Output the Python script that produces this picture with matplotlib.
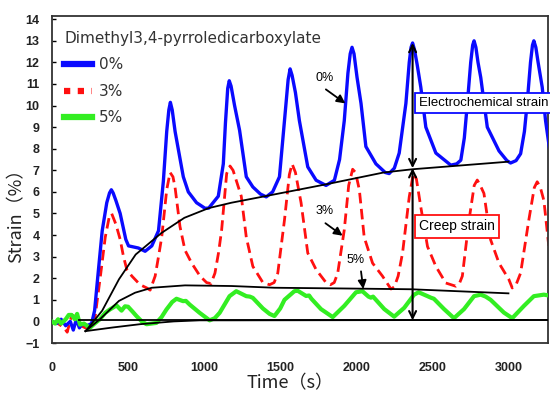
import matplotlib
matplotlib.use("Agg")
import matplotlib.pyplot as plt
from matplotlib.lines import Line2D
from matplotlib import font_manager

# ---------------- data ----------------
blue_t = [0, 30, 60, 90, 120, 140, 160, 180, 200, 230, 260, 280, 300, 330, 360, 378, 390, 402, 420,
          448, 485, 503, 568, 612, 656, 700, 732, 754, 768, 778, 790, 809, 863, 896, 950, 1006, 1030,
          1093, 1126, 1140, 1155, 1165, 1177, 1200, 1233, 1277, 1320, 1370, 1408, 1450, 1495, 1528,
          1552, 1565, 1578, 1600, 1626, 1681, 1736, 1801, 1856, 1890, 1921, 1945, 1960, 1972, 1985,
          2005, 2031, 2063, 2129, 2190, 2216, 2250, 2282, 2326, 2348, 2360, 2370, 2382, 2400, 2424,
          2457, 2523, 2621, 2660, 2687, 2710, 2730, 2752, 2765, 2774, 2786, 2800, 2818, 2861, 2938,
          2990, 3014, 3050, 3080, 3105, 3123, 3145, 3158, 3167, 3180, 3195, 3222, 3244, 3270]
blue_v = [0.0, -0.1, 0.1, -0.2, 0.0, -0.4, 0.1, -0.3, -0.1, -0.2, -0.1, 0.5, 2.0, 4.2, 5.5, 5.95, 6.1, 5.95, 5.6,
          5.0, 3.8, 3.5, 3.4, 3.25, 3.5, 4.2, 6.5, 8.8, 9.8, 10.15, 9.8, 8.8, 6.7, 6.0, 5.5, 5.24, 5.25,
          5.8, 7.3, 9.2, 10.8, 11.15, 10.9, 10.0, 8.85, 6.7, 6.23, 5.9, 5.77, 6.0, 6.7, 9.3,
          11.2, 11.7, 11.4, 10.6, 9.3, 7.16, 6.54, 6.3, 6.54, 7.5, 9.3, 11.5, 12.4, 12.7, 12.4,
          11.3, 10.1, 8.1, 7.3, 6.9, 6.85, 7.1, 7.8, 10.1, 12.0, 12.7, 12.9, 12.6, 11.9, 10.85,
          9.0, 7.8, 7.24, 7.3, 7.47, 8.5, 10.1, 12.0, 12.8, 13.0, 12.7, 12.0, 11.3, 9.0, 7.9,
          7.45, 7.34, 7.45, 7.77, 8.8, 10.1, 12.0, 12.8, 13.0, 12.7, 12.0, 10.85, 9.3, 8.0]

red_t = [0, 40, 80, 100, 130, 160, 190, 220, 260, 284, 320, 350, 375, 392, 420, 448, 470, 492, 525, 579,
         623, 645, 678, 700, 721, 754, 776, 795, 809, 841, 874, 918, 973, 1016, 1045, 1071, 1095, 1115,
         1148, 1170, 1190, 1244, 1277, 1320, 1386, 1430, 1460, 1484, 1528, 1560, 1578, 1600, 1637,
         1681, 1736, 1801, 1830, 1855, 1878, 1921, 1950, 1976, 1995, 2020, 2052, 2107, 2172, 2228,
         2250, 2275, 2304, 2348, 2375, 2395, 2424, 2468, 2523, 2588, 2654, 2680, 2697, 2741, 2775,
         2795, 2815, 2839, 2883, 2938, 3003, 3025, 3050, 3080, 3134, 3170, 3189, 3210, 3233, 3265]
red_v = [0.0, -0.1, -0.3, -0.5, 0.3, 0.2, -0.2, -0.3, -0.1, 0.25, 2.2, 3.9, 4.8, 5.0, 4.5, 3.8, 3.0, 2.4, 2.1, 1.7,
         1.55, 1.45, 2.1, 3.0, 3.9, 6.1, 6.9, 6.7, 6.2, 4.4, 3.3, 2.7, 2.1, 1.8, 1.75, 2.24, 3.2, 4.24,
         6.85, 7.2, 7.0, 5.8, 3.9, 2.55, 1.8, 1.7, 1.8, 2.24, 4.7, 6.8, 7.3, 6.9, 5.5,
         3.17, 2.4, 1.8, 1.7, 1.8, 2.24, 4.24, 6.3, 7.05, 6.9, 6.1, 3.9, 2.7, 2.1, 1.5,
         1.6, 2.1, 3.17, 5.77, 6.85, 6.6, 5.3, 3.47, 2.55, 1.78, 1.63, 1.8, 2.1, 4.7, 6.3,
         6.55, 6.3, 5.93, 3.78, 2.7, 1.94, 1.55, 1.7, 2.24, 4.7, 6.2, 6.47, 6.2, 5.6, 3.5]

green_t = [0, 20, 40, 60, 90, 110, 129, 150, 165, 184, 210, 249, 280, 315, 350, 380, 424, 457, 480, 500,
           530, 555, 590, 621, 686, 720, 752, 790, 818, 861, 880, 905, 970, 1036, 1070, 1102, 1167, 1211,
           1240, 1277, 1300, 1320, 1386, 1430, 1462, 1500, 1528, 1593, 1615, 1670, 1690, 1705, 1768,
           1845, 1921, 1998, 2040, 2080, 2096, 2110, 2184, 2249, 2315, 2380, 2410, 2468, 2490, 2510,
           2577, 2642, 2708, 2774, 2818, 2850, 2883, 2970, 3025, 3102, 3167, 3233, 3265]
green_v = [0.0, -0.1, 0.1, -0.1, 0.1, 0.3, 0.3, 0.1, 0.35, -0.15, -0.1, -0.3, -0.1, 0.1, 0.4, 0.55, 0.74, 0.5, 0.7, 0.68,
           0.45, 0.25, 0.0, -0.13, -0.07, 0.2, 0.55, 0.9, 1.05, 0.94, 0.95, 0.78, 0.4, 0.05, 0.15, 0.4, 1.17, 1.4,
           1.3, 1.17, 1.15, 1.09, 0.6, 0.35, 0.25, 0.6, 1.0, 1.4, 1.42, 1.18, 1.2, 1.05, 0.57,
           0.2, 0.72, 1.35, 1.4, 1.15, 1.1, 1.15, 0.57, 0.22, 0.63, 1.24, 1.35, 1.17, 1.1, 1.05,
           0.57, 0.15, 0.57, 1.17, 1.24, 1.15, 1.0, 0.41, 0.15, 0.72, 1.17, 1.24, 1.2]

fit0_t = [220, 250, 330, 440, 550, 720, 870, 1030, 1180, 1400, 1800, 2180, 2370, 3000]
fit0_v = [-0.45, -0.2, 0.5, 1.95, 3.1, 4.1, 4.8, 5.25, 5.5, 5.8, 6.35, 6.9, 7.05, 7.4]
fit3_t = [220, 315, 440, 546, 656, 874, 1180, 1462, 2000, 2360, 3000]
fit3_v = [-0.45, 0.1, 0.95, 1.33, 1.56, 1.67, 1.64, 1.56, 1.52, 1.49, 1.3]
fit5_t = [220, 400, 577, 800, 970, 1180, 3265]
fit5_v = [-0.45, -0.28, -0.13, 0.0, 0.05, 0.05, 0.07]
base_t = [180, 3265]
base_v = [0.07, 0.07]

x_ticks = [0, 500, 1000, 1500, 2000, 2500, 3000]
y_ticks = list(range(-1, 15))
series_labels = ["0%", "3%", "5%"]
legend_title = "Dimethyl3,4-pyrroledicarboxylate"

# ---------------- fonts ----------------
names = {f.name for f in font_manager.fontManager.ttflist}
narrow = "Liberation Sans Narrow" if "Liberation Sans Narrow" in names else "Liberation Sans"
cjk = ["Noto Sans CJK JP", "DejaVu Sans"]

# ---------------- figure ----------------
fig = plt.figure(figsize=(5.5, 3.94), dpi=100)
ax = fig.add_axes([52 / 550, 1 - 343 / 394, 496 / 550, 327 / 394])
ax.set_xlim(0, 3260)
ax.set_ylim(-1, 14.15)

ax.plot(red_t, red_v, color="#ff1010", lw=2.0, ls=(0, (3.8, 2.0)), zorder=2)
ax.plot(blue_t, blue_v, color="#0a0aff", lw=2.4, zorder=3)
ax.plot(green_t, green_v, color="#33ee22", lw=3.0, zorder=3)
for tt, vv in [(fit0_t, fit0_v), (fit3_t, fit3_v), (fit5_t, fit5_v), (base_t, base_v)]:
    ax.plot(tt, vv, color="black", lw=1.3, zorder=4)

# vertical double arrows
ap = dict(arrowstyle="<->,head_length=0.5,head_width=0.25", color="black", lw=1.5,
          shrinkA=0, shrinkB=0)
ax.annotate("", xy=(2370, 12.9), xytext=(2370, 7.1), arrowprops=ap, zorder=5)
ax.annotate("", xy=(2370, 7.1), xytext=(2370, 0.05), arrowprops=ap, zorder=5)

# text boxes
ax.text(2410, 10.1, "Electrochemical strain", fontsize=9.5, family=narrow, ha="left", va="center",
        bbox=dict(boxstyle="square,pad=0.3", fc="white", ec="#0a0aff", lw=1.3), zorder=6,
        clip_on=False)
ax.text(2410, 4.4, "Creep strain", fontsize=10, family=narrow, ha="left", va="center",
        bbox=dict(boxstyle="square,pad=0.3", fc="white", ec="#ff1010", lw=1.3), zorder=6)

# arrow labels
sap = dict(arrowstyle="-|>,head_length=0.5,head_width=0.25", color="black", lw=1.3,
           shrinkA=0, shrinkB=0)
ax.text(1790, 11.3, series_labels[0], fontsize=9, ha="center", va="center", family="Liberation Sans")
ax.annotate("", xy=(1928, 10.1), xytext=(1800, 10.75), arrowprops=sap)
ax.text(1790, 5.1, series_labels[1], fontsize=9, ha="center", va="center", family="Liberation Sans")
ax.annotate("", xy=(1910, 3.97), xytext=(1797, 4.55), arrowprops=sap)
ax.text(1998, 2.86, series_labels[2], fontsize=9, ha="center", va="center", family="Liberation Sans")
ax.annotate("", xy=(2046, 1.5), xytext=(2031, 2.32), arrowprops=sap)

# axes styling
for s in ax.spines.values():
    s.set_color("#333333")
    s.set_linewidth(1.3)
ax.set_xticks(x_ticks)
ax.set_yticks(y_ticks)
ax.tick_params(axis="y", direction="in", length=3, width=1, pad=9, labelsize=9)
ax.tick_params(axis="x", length=0, pad=14, labelsize=9)
for lab in ax.get_xticklabels() + ax.get_yticklabels():
    lab.set_family("Liberation Sans")
    lab.set_fontweight("bold")
    lab.set_color("#222222")

fig.text(16 / 550, 1 - 211 / 394, "Strain（%）", rotation=90, fontsize=13, family=cjk,
         ha="center", va="center", color="#222222")
fig.text(290 / 550, 1 - 392 / 394, "Time（s）", fontsize=13, family=cjk,
         ha="center", va="bottom", color="#222222")

# legend
handles = [Line2D([], [], color="#0a0aff", lw=4.5),
           Line2D([], [], color="#ff1010", lw=4.5, ls=(0, (1.0, 1.2))),
           Line2D([], [], color="#33ee22", lw=4.5)]
leg = ax.legend(handles, series_labels, title=legend_title, loc="upper left",
                bbox_to_anchor=(64 / 550, 1 - 31 / 394), bbox_transform=fig.transFigure,
                frameon=False, fontsize=11, title_fontsize=11, handlelength=1.8,
                handletextpad=0.5, labelspacing=0.75, borderpad=0, borderaxespad=0,
                alignment="left")
for t in leg.get_texts():
    t.set_color("#333333")
leg.get_title().set_color("#333333")

fig.savefig("out.png", dpi=100)
